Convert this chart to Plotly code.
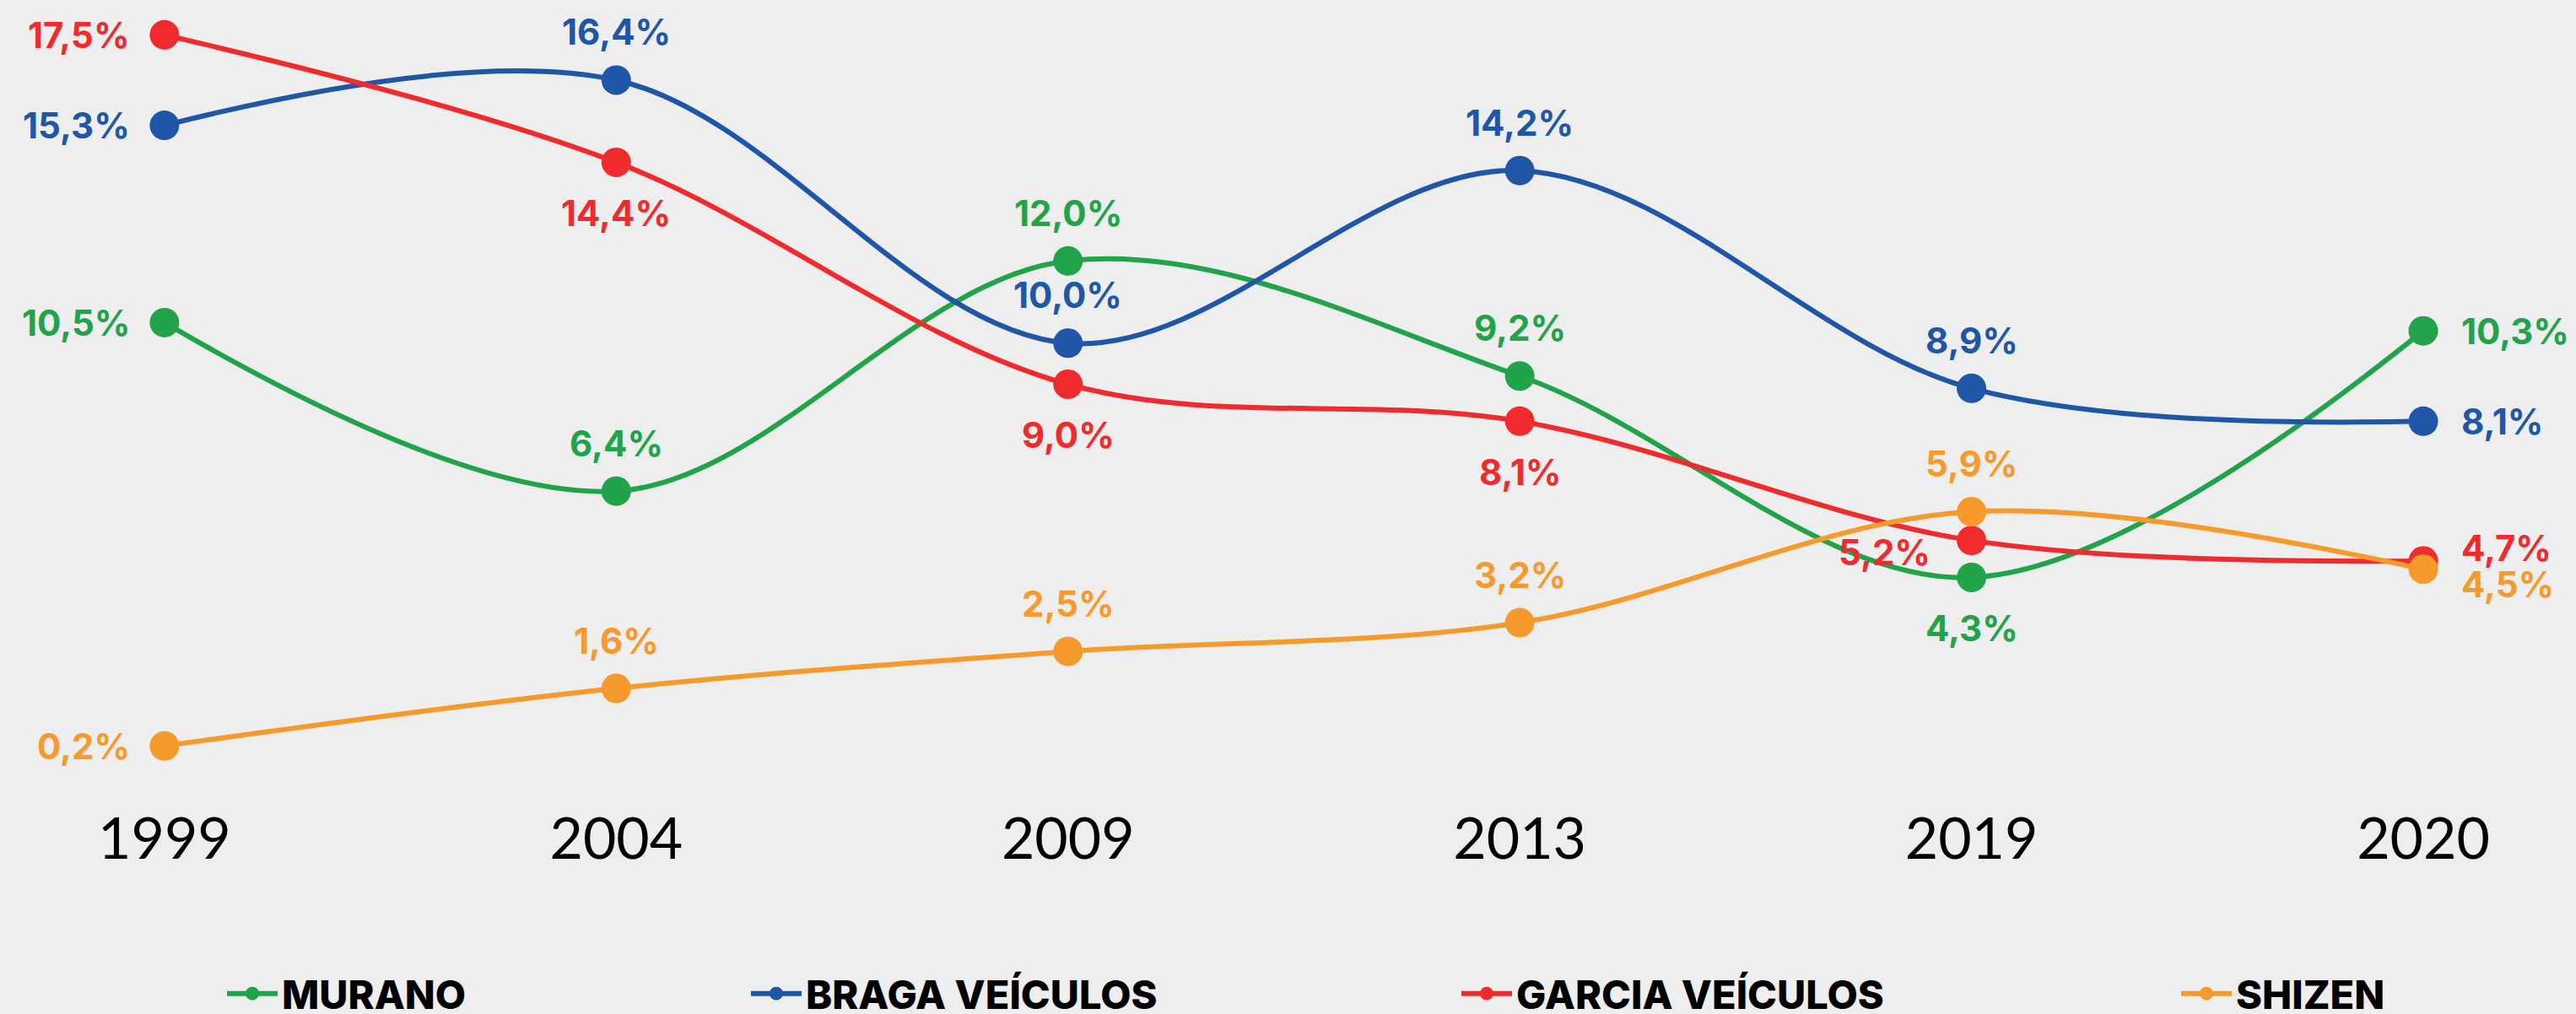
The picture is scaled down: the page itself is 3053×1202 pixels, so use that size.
import plotly.graph_objects as go

# ---- data ----
years = ["1999", "2004", "2009", "2013", "2019", "2020"]
series_names = ["MURANO", "BRAGA VEÍCULOS", "GARCIA VEÍCULOS", "SHIZEN"]
murano = [10.5, 6.4, 12.0, 9.2, 4.3, 10.3]
braga = [15.3, 16.4, 10.0, 14.2, 8.9, 8.1]
garcia = [17.5, 14.4, 9.0, 8.1, 5.2, 4.7]
shizen = [0.2, 1.6, 2.5, 3.2, 5.9, 4.5]
values = [murano, braga, garcia, shizen]

# ---- style ----
colors = ["#21A34A", "#1F56A8", "#EF2B2D", "#F79A2E"]
label_pos = [
    ["L", "T", "T", "T", "B", "R"],
    ["L", "T", "T", "T", "T", "R"],
    ["L", "B", "B", "B", "L2", "R2"],
    ["L", "T", "T", "T", "T", "R3"],
]
pos_style = {
    "L": dict(xanchor="right", xshift=-39, yshift=0),
    "T": dict(xanchor="center", xshift=0, yshift=57),
    "B": dict(xanchor="center", xshift=0, yshift=-60),
    "R": dict(xanchor="left", xshift=43, yshift=0),
    "L2": dict(xanchor="right", xshift=-47, yshift=-14),
    "R2": dict(xanchor="left", xshift=43, yshift=16),
    "R3": dict(xanchor="left", xshift=43, yshift=-18),
}
legend_text_x = [336, 957, 1799, 2652]

W, H = 3053, 1202
BG = "#EEEEEE"

fig = go.Figure()
legend_ids = ["legend", "legend2", "legend3", "legend4"]
for i, (name, vals, col) in enumerate(zip(series_names, values, colors)):
    fig.add_trace(go.Scatter(
        x=years, y=vals, name=name, mode="lines+markers",
        line=dict(color=col, width=6, shape="spline", smoothing=1.0),
        marker=dict(color=col, size=35, line=dict(width=0)),
        legend=legend_ids[i], hoverinfo="skip", cliponaxis=False,
    ))

annotations = []
for vals, col, poss in zip(values, colors, label_pos):
    for j, (v, p) in enumerate(zip(vals, poss)):
        st = pos_style[p]
        annotations.append(dict(
            x=j, y=v, xref="x", yref="y",
            text=f"{v:.1f}%".replace(".", ","),
            showarrow=False, yanchor="middle",
            font=dict(family="Inter", size=42, color=col, weight=700),
            **st,
        ))

layout_legends = {}
for i, lid in enumerate(legend_ids):
    layout_legends[lid] = dict(
        orientation="h", x=(legend_text_x[i] - 72) / W, xanchor="left",
        y=-0.324, yanchor="middle", bgcolor="rgba(0,0,0,0)",
        font=dict(family="Inter", size=47, color="#000000", weight=800),
        itemwidth=60,
    )

fig.update_layout(
    width=W, height=H,
    paper_bgcolor=BG, plot_bgcolor=BG,
    margin=dict(l=0, r=0, t=17, b=308, autoexpand=False),
    showlegend=True,
    annotations=annotations,
    xaxis=dict(
        type="category", range=[-0.364, 5.338],
        showgrid=False, zeroline=False, showline=False,
        ticks="", ticklabelstandoff=55,
        tickfont=dict(family="Lato", size=68, color="#000000"),
    ),
    yaxis=dict(range=[0, 18], visible=False, showgrid=False, zeroline=False),
    **layout_legends,
)

fig.write_html(
    "out.html",
    config={"displayModeBar": False},
    post_script="document.body.style.margin='0';document.body.style.padding='0';document.body.style.overflow='hidden';",
)
